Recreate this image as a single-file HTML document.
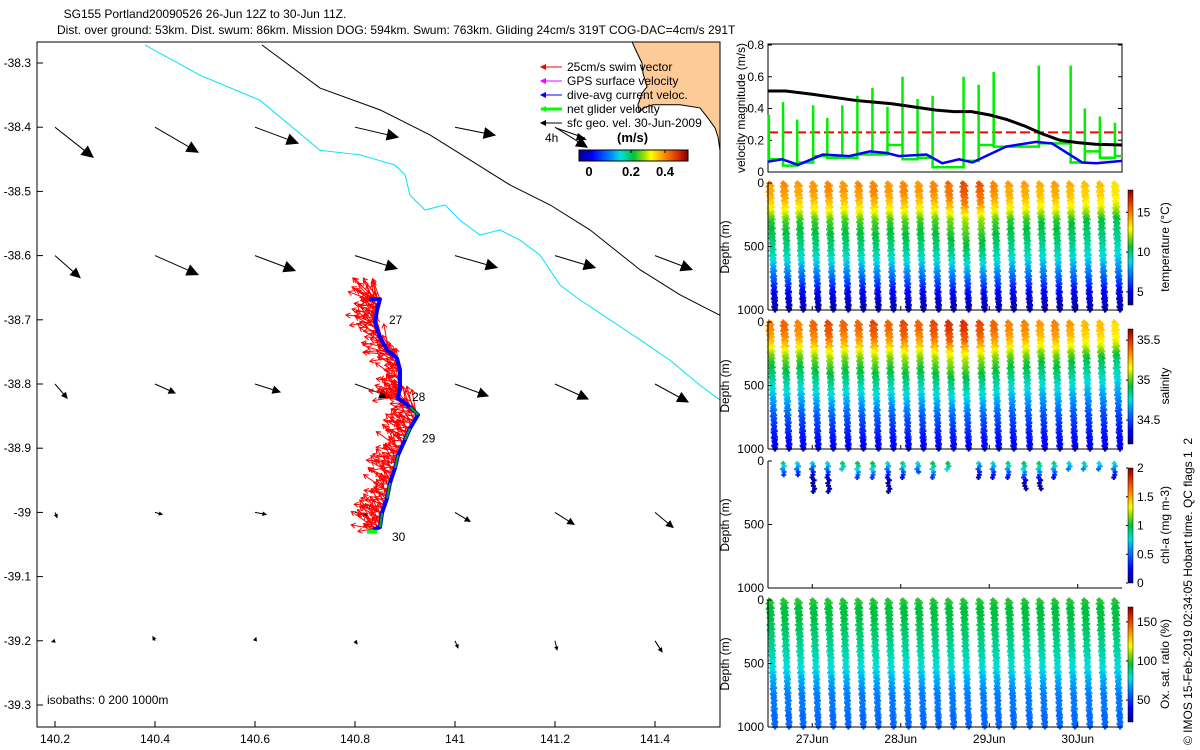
<!DOCTYPE html>
<html><head><meta charset="utf-8"><style>
html,body{margin:0;padding:0;background:#fff}
svg{display:block;font-family:"Liberation Sans",sans-serif}
text{font-size:12px;fill:#000}
</style></head><body>
<svg id="s" width="1200" height="750" viewBox="0 0 1200 750" xmlns="http://www.w3.org/2000/svg">
<defs>
<linearGradient id="jetH" x1="0" x2="1" y1="0" y2="0">
<stop offset="0" stop-color="#00008f"/><stop offset="0.12" stop-color="#0000ff"/><stop offset="0.3" stop-color="#0090ff"/><stop offset="0.38" stop-color="#00e0e0"/><stop offset="0.5" stop-color="#00c040"/><stop offset="0.6" stop-color="#a0e000"/><stop offset="0.66" stop-color="#ffff00"/><stop offset="0.78" stop-color="#ff9000"/><stop offset="0.9" stop-color="#e03000"/><stop offset="1" stop-color="#800000"/></linearGradient>
<linearGradient id="jetV" x1="0" x2="0" y1="1" y2="0">
<stop offset="0" stop-color="#00008f"/><stop offset="0.12" stop-color="#0000ff"/><stop offset="0.3" stop-color="#0090ff"/><stop offset="0.38" stop-color="#00e0e0"/><stop offset="0.5" stop-color="#00c040"/><stop offset="0.6" stop-color="#a0e000"/><stop offset="0.66" stop-color="#ffff00"/><stop offset="0.78" stop-color="#ff9000"/><stop offset="0.9" stop-color="#e03000"/><stop offset="1" stop-color="#800000"/></linearGradient>
<clipPath id="mapClip"><rect x="37" y="42" width="683" height="685"/></clipPath>
</defs>
<text x="205" y="18" text-anchor="middle">SG155 Portland20090526 26-Jun 12Z to 30-Jun 11Z.</text>
<text x="57" y="34">Dist. over ground: 53km. Dist. swum: 86km. Mission DOG: 594km. Swum: 763km. Gliding 24cm/s 319T COG-DAC=4cm/s 291T</text>
<g id="map"></g>
<g id="right"></g>
<text transform="translate(1192,745) rotate(-90)" xml:space="preserve">© IMOS 15-Feb-2019 02:34:05 Hobart time. QC flags 1  2</text>
</svg>
<script>
// ---------- MAP DATA ----------
const lonTicks=[140.2,140.4,140.6,140.8,141,141.2,141.4];
const latTicks=[-38.3,-38.4,-38.5,-38.6,-38.7,-38.8,-38.9,-39,-39.1,-39.2,-39.3];
const trackLon=[140.828,140.85,140.844,140.84,140.85,140.864,140.884,140.89,140.89,140.886,140.91,140.926,140.91,140.9,140.886,140.88,140.87,140.864,140.854,140.85,140.836];
const trackLat=[-38.668,-38.668,-38.685,-38.705,-38.727,-38.747,-38.76,-38.778,-38.805,-38.822,-38.836,-38.848,-38.869,-38.887,-38.911,-38.931,-38.954,-38.978,-39.001,-39.023,-39.027];
const iso200Lon=[140.38,140.49,140.61,140.73,140.81,140.88,140.9,140.91,140.94,140.98,141.01,141.05,141.09,141.13,141.17,141.21,141.25,141.31,141.37,141.43,141.49,141.53];
const iso200Lat=[-38.272,-38.319,-38.358,-38.436,-38.443,-38.459,-38.474,-38.506,-38.529,-38.521,-38.545,-38.568,-38.56,-38.576,-38.599,-38.646,-38.669,-38.7,-38.731,-38.763,-38.802,-38.825];
const iso1000Lon=[140.614,140.73,140.85,140.95,141.03,141.11,141.19,141.27,141.37,141.45,141.53];
const iso1000Lat=[-38.272,-38.339,-38.373,-38.412,-38.451,-38.49,-38.521,-38.56,-38.622,-38.661,-38.693];
const landLon=[141.354,141.364,141.374,141.376,141.384,141.374,141.366,141.368,141.38,141.396,141.424,141.45,141.49,141.506,141.52,141.526,141.53,141.6,141.6];
const landLat=[-38.267,-38.284,-38.3,-38.316,-38.337,-38.347,-38.365,-38.376,-38.369,-38.365,-38.365,-38.365,-38.37,-38.386,-38.401,-38.415,-38.436,-38.436,-38.2];
const gridLats=[-38.4,-38.6,-38.8,-39.0,-39.2];
const gridU=[[0.38,0.43,0.43,0.43,0.40,0.32,null],[0.25,0.43,0.40,0.42,0.42,0.40,0.37],[0.12,0.20,0.25,0.35,0.33,0.33,0.33],[0.02,0.07,0.11,0.12,0.15,0.19,0.18],[-0.03,-0.02,0.01,0.02,0.03,0.02,0.07]];
const gridV=[[-0.30,-0.25,-0.16,-0.10,-0.08,-0.20,null],[-0.22,-0.19,-0.15,-0.13,-0.12,-0.12,-0.14],[-0.14,-0.09,-0.08,-0.13,-0.12,-0.15,-0.18],[-0.05,-0.02,-0.02,-0.03,-0.09,-0.12,-0.15],[-0.01,0.04,0.03,-0.03,-0.07,-0.09,-0.11]];
const swimAngles=[200,215,230,190,245,210,175,225,260,205,235,195,250,185,220,240,170,255];
const swimLens=[22,16,28,12,20,25,14,30,18,24,26,10];
const dayLabels=[{t:27,s:"27"},{t:28,s:"28"},{t:29,s:"29"},{t:30,s:"30"}];
const dayLabelIdx=[2,8,12,19];

// ---------- TIME SERIES DATA ----------
const blackT=[26.5,26.7,27.0,27.5,27.9,28.4,28.6,28.8,29.0,29.2,29.4,29.6,29.8,30.0,30.2,30.5];
const blackV=[0.51,0.51,0.49,0.45,0.43,0.39,0.38,0.38,0.36,0.33,0.29,0.24,0.20,0.185,0.175,0.17];
const blueT=[26.5,26.66,26.84,27.12,27.42,27.65,27.84,27.98,28.29,28.47,28.66,28.81,29.19,29.53,29.71,30.05,30.21,30.5];
const blueV=[0.065,0.08,0.045,0.11,0.10,0.13,0.12,0.10,0.11,0.055,0.08,0.06,0.16,0.19,0.18,0.06,0.055,0.07];
const greenT=[26.51,26.67,26.83,27.01,27.17,27.34,27.51,27.68,27.85,28.02,28.19,28.36,28.71,28.88,29.05,29.56,29.92,30.08,30.25,30.42];
const greenPeak=[0.36,0.44,0.33,0.42,0.34,0.42,0.48,0.53,0.41,0.60,0.46,0.48,0.60,0.55,0.63,0.67,0.67,0.40,0.35,0.31];
const greenBase=[0.08,0.04,0.06,0.10,0.09,0.09,0.11,0.11,0.17,0.08,0.09,0.03,0.07,0.17,0.16,0.18,0.06,0.13,0.09,0.10];
const swimSpeed=0.25;
const diveT=[26.51,26.67,26.83,27.0,27.17,27.34,27.51,27.68,27.85,28.02,28.19,28.36,28.53,28.7,28.88,29.04,29.21,29.39,29.56,29.73,29.9,30.07,30.24,30.41];
const depthGrid=[0,50,100,150,200,250,300,350,400,450,500,550,600,650,700,750,800,850,900,950,1000];
const tempProf=[14.4,14.3,14.1,13.7,13.0,12.1,11.0,10.7,10.4,10.1,9.8,9.4,8.9,8.3,7.6,6.9,6.1,5.3,4.6,4.0,3.7];
const tempOffset=[0,0.3,0,0.2,0.4,0.2,0.3,0.5,0.2,0.5,0.2,0.4,0.9,1.5,1.2,0.4,0,0,-0.3,0,-0.3,-0.6,-0.6,-1];
const salProf=[35.36,35.34,35.31,35.26,35.18,35.06,34.98,34.93,34.88,34.83,34.78,34.73,34.68,34.63,34.57,34.52,34.48,34.44,34.41,34.38,34.35];
const salOffset=[0,0.05,0,0.05,0.1,0.05,0.05,0.1,0.05,0.1,0.05,0.1,0.15,0.15,0.1,0.05,0,0,-0.05,0,-0.05,-0.1,-0.1,-0.15];
const oxyProf=[98,97,96,95,93,91,89,87,85,83,80,77,73,69,66,63,62,61,60,60,60];
const chlMax=[0,120,120,240,240,80,140,130,240,140,100,130,70,0,140,140,140,230,230,140,80,80,80,130];
const chlSurf=[0.8,0.9,0.8,0.7,0.8,0.95,1.0,1.0,0.8,0.9,0.8,1.0,1.0,0.8,0.7,0.8,0.9,1.0,0.95,0.9,0.8,0.85,0.75,0.8];
const velTicks=[0,0.2,0.4,0.6,0.8];
const depthTicks=[0,500,1000];
const dateTicks=[27,28,29,30];
const dateLabels=["27Jun","28Jun","29Jun","30Jun"];

// ---------- helpers ----------
const NS="http://www.w3.org/2000/svg";
function mk(tag,attrs,parent){const e=document.createElementNS(NS,tag);for(const k in attrs)e.setAttribute(k,attrs[k]);parent.appendChild(e);return e;}
function X(lon){return 55+(lon-140.2)*500;}
function Y(lat){return 63+(-38.3-lat)*642;}
const cmapPos=[0,0.12,0.3,0.38,0.5,0.6,0.66,0.78,0.9,1];
const cmapCol=[[0,0,143],[0,0,255],[0,144,255],[0,224,224],[0,192,64],[160,224,0],[255,255,0],[255,144,0],[224,48,0],[128,0,0]];
function jet(v){v=Math.max(0,Math.min(1,v));v=Math.round(v*48)/48;
 for(let i=1;i<cmapPos.length;i++){if(v<=cmapPos[i]){const f=(v-cmapPos[i-1])/(cmapPos[i]-cmapPos[i-1]);const a=cmapCol[i-1],b=cmapCol[i];
  return "rgb("+[0,1,2].map(k=>Math.round(a[k]+f*(b[k]-a[k]))).join(",")+")";}}return "rgb(128,0,0)";}
function interp(xs,ys,x){if(x<=xs[0])return ys[0];for(let i=1;i<xs.length;i++){if(x<=xs[i]){const f=(x-xs[i-1])/(xs[i]-xs[i-1]);return ys[i-1]+f*(ys[i]-ys[i-1]);}}return ys[ys.length-1];}
const map=document.getElementById('map');
const right=document.getElementById('right');

// ---------- MAP ----------
const clipG=mk('g',{'clip-path':'url(#mapClip)'},map);
let d="M"+landLon.map((l,i)=>X(l)+","+Y(landLat[i])).join(" L")+" Z";
const land=mk('path',{d:d,fill:'#fccb98',stroke:'#000','stroke-width':1},clipG);


const iso2=mk('polyline',{points:iso200Lon.map((l,i)=>X(l)+","+Y(iso200Lat[i])).join(" "),fill:'none',stroke:'#00e0ff','stroke-width':1},clipG);


const iso1=mk('polyline',{points:iso1000Lon.map((l,i)=>X(l)+","+Y(iso1000Lat[i])).join(" "),fill:'none',stroke:'#000','stroke-width':1},clipG);


function arrow(g,x1,y1,x2,y2,col,w,hs){
 mk('line',{x1:x1,y1:y1,x2:x2,y2:y2,stroke:col,'stroke-width':w},g);
 const a=Math.atan2(y2-y1,x2-x1);
 const p=[[x2,y2],[x2-hs*Math.cos(a-0.45),y2-hs*Math.sin(a-0.45)],[x2-hs*Math.cos(a+0.45),y2-hs*Math.sin(a+0.45)]];
 mk('polygon',{points:p.map(q=>q.join(",")).join(" "),fill:col,stroke:col,'stroke-width':1},g);}
const gf=mk('g',{},clipG);


gridLats.forEach((lat,r)=>lonTicks.forEach((lon,c)=>{const u=gridU[r][c],v=gridV[r][c];if(u===null)return;
 const x1=X(lon),y1=Y(lat),x2=x1+u*100,y2=y1-v*100;const L=Math.hypot(x2-x1,y2-y1);
 arrow(gf,x1,y1,x2,y2,'#000',1,Math.min(12,Math.max(3,L*0.3)));}));
// swim vectors
const gs=mk('g',{},clipG);


let k=0;let sd="";
for(let i=0;i<trackLon.length-1;i++){for(let j=0;j<12;j++){const f=j/12;const x=X(trackLon[i]+(trackLon[i+1]-trackLon[i])*f),y=Y(trackLat[i]+(trackLat[i+1]-trackLat[i])*f);
 const a=swimAngles[k%swimAngles.length]*Math.PI/180,L=swimLens[k%swimLens.length];k++;
 const x2=x+L*Math.cos(a),y2=y+L*Math.sin(a);
 sd+="M"+x.toFixed(1)+","+y.toFixed(1)+"L"+x2.toFixed(1)+","+y2.toFixed(1);
 sd+="M"+(x2+5*Math.cos(a+2.6)).toFixed(1)+","+(y2+5*Math.sin(a+2.6)).toFixed(1)+"L"+x2.toFixed(1)+","+y2.toFixed(1)+"L"+(x2+5*Math.cos(a-2.6)).toFixed(1)+","+(y2+5*Math.sin(a-2.6)).toFixed(1);}}
mk('path',{d:sd,stroke:'#ff0000','stroke-width':1,fill:'none'},gs);
const tr=mk('polyline',{points:trackLon.map((l,i)=>X(l)+","+Y(trackLat[i])).join(" "),fill:'none',stroke:'#0000ff','stroke-width':4,'stroke-linejoin':'round'},clipG);


for(let i=10;i<trackLon.length-1;i+=2){const s=mk('line',{x1:X(trackLon[i]),y1:Y(trackLat[i]),x2:X(trackLon[i+1]),y2:Y(trackLat[i+1]),stroke:'#00b000','stroke-width':2},clipG);
 
 }
const last=trackLon.length-1;
mk('line',{x1:X(trackLon[last])-6,y1:Y(trackLat[last])+2,x2:X(trackLon[last])+4,y2:Y(trackLat[last])+2,stroke:'#00ff00','stroke-width':4},clipG);
dayLabels.forEach((dl,i)=>{const idx=dayLabelIdx[i];const t=mk('text',{x:X(trackLon[idx])+12,y:Y(trackLat[idx])+14},map);t.textContent=dl.s;
 
 });
// axes
const ax=mk('rect',{x:37,y:42,width:683,height:685,fill:'none',stroke:'#000','stroke-width':1},map);


lonTicks.forEach(l=>{const x=X(l);mk('line',{x1:x,y1:727,x2:x,y2:721,stroke:'#000'},map);
 const t=mk('text',{x:x,y:743,'text-anchor':'middle'},map);t.textContent=String(l);
 
 });
latTicks.forEach(l=>{const y=Y(l);mk('line',{x1:37,y1:y,x2:43,y2:y,stroke:'#000'},map);
 const t=mk('text',{x:31,y:y+4,'text-anchor':'end'},map);t.textContent=String(l);
 
 });
const isoT=mk('text',{x:47,y:704},map);isoT.textContent="isobaths: 0   200   1000m";


isoT.setAttribute('xml:space','preserve');
// legend
const lg=mk('g',{},map);


const legItems=[["25cm/s swim vector","#ff0000",1],["GPS surface velocity","#ff00ff",1],["dive-avg current veloc.","#0000ff",1],["net glider velocity","#00ff00",3],["sfc geo. vel. 30-Jun-2009","#000",1]];
legItems.forEach((it,i)=>{const y=67+i*14;const e=mk('g',{},lg);
 
 
 mk('line',{x1:542,y1:y,x2:562,y2:y,stroke:it[1],'stroke-width':it[2]},e);
 arrow(e,548,y,541,y,it[1],it[2],5);
 const t=mk('text',{x:567,y:y+4},e);t.textContent=it[0];});
const h4=mk('text',{x:545,y:142},lg);h4.textContent="4h";
mk('line',{x1:556,y1:128,x2:585,y2:138,stroke:'#000'},lg);
mk('polygon',{points:"587,140 578,133 576,140",fill:'#000'},lg);
const ms=mk('text',{x:617,y:142,'font-weight':'bold','style':'font-size:13px'},lg);ms.textContent="(m/s)";
const cb=mk('rect',{x:579,y:150,width:109,height:11,fill:'url(#jetH)',stroke:'#000'},lg);


[["0",589],["0.2",631],["0.4",665]].forEach(a=>{const t=mk('text',{x:a[1],y:176,'text-anchor':'middle','font-weight':'bold','style':'font-size:13px'},lg);t.textContent=a[0];
 mk('line',{x1:a[1],y1:150,x2:a[1],y2:153,stroke:'#000'},lg);});

// ---------- RIGHT PANELS ----------
const PX0=768,PX1=1122;
function TX(t){return PX0+(t-26.5)/4*(PX1-PX0);}
const VY=v=>172-v*158.75;
const vp=mk('g',{},right);


mk('rect',{x:PX0,y:44,width:PX1-PX0,height:128,fill:'#fff',stroke:'#000'},vp);
velTicks.forEach(v=>{const y=VY(v);mk('line',{x1:PX0,y1:y,x2:PX0+4,y2:y,stroke:'#000'},vp);mk('line',{x1:PX1,y1:y,x2:PX1-4,y2:y,stroke:'#000'},vp);
 const t=mk('text',{x:764,y:y+4,'text-anchor':'end'},vp);t.textContent=String(v);});
const vl=mk('text',{transform:'translate(745,108) rotate(-90)','text-anchor':'middle'},vp);vl.textContent="velocity magnitude (m/s)";


const rl=mk('line',{x1:PX0,y1:VY(swimSpeed),x2:PX1,y2:VY(swimSpeed),stroke:'#ff0000','stroke-width':2,'stroke-dasharray':'10,4'},vp);


let gd="";let prev=greenBase[0];
greenT.forEach((t,i)=>{const x=TX(t);if(i===0)gd+="M"+x+","+VY(greenPeak[0]);else gd+=" L"+x+","+VY(prev)+" L"+x+","+VY(greenPeak[i]);
 gd+=" L"+x+","+VY(greenBase[i]);prev=greenBase[i];});
gd+=" L"+PX1+","+VY(prev);
const gl=mk('path',{d:gd,fill:'none',stroke:'#00ee00','stroke-width':2.5},vp);


const bl=mk('polyline',{points:blackT.map((t,i)=>TX(t)+","+VY(blackV[i])).join(" "),fill:'none',stroke:'#000','stroke-width':3},vp);


const bu=mk('polyline',{points:blueT.map((t,i)=>TX(t)+","+VY(blueV[i])).join(" "),fill:'none',stroke:'#0000ff','stroke-width':2.5},vp);



const wig=[0,1,-1,0.5,0,-1,1,-0.5,0,1,-0.5,0.5];
function profilePanel(name,top,vmin,vmax,valueAt,cbTicks,title,sparse){
 const g=mk('g',{},right);
 
 
 const DY=dep=>top+dep/1000*127;
 const bins={};
 function add(x,y,v){const c=jet((v-vmin)/(vmax-vmin));(bins[c]=bins[c]||[]).push("M"+(x-2.5).toFixed(1)+","+y.toFixed(1)+"h5M"+x.toFixed(1)+","+(y-2.5).toFixed(1)+"v5");}
 diveT.forEach((t,i)=>{const x0=TX(t);const maxD=sparse?sparse[i]:1000;if(maxD<=0)return;
  const step=sparse?22:14;let n=0;const d0=sparse?20:0;
  for(let dep=d0;dep<=maxD;dep+=step){const f=dep/1000;
   add(x0+f*6+wig[n%wig.length],DY(dep),valueAt(i,dep));
   if(!sparse)add(x0+2+f*4+wig[(n+5)%wig.length],DY(dep+7),valueAt(i,dep+7));n++;}});
 for(const c in bins)mk('path',{d:bins[c].join(""),stroke:c,'stroke-width':2,fill:'none'},g);
 mk('line',{x1:PX0,y1:top,x2:PX0,y2:top+127,stroke:'#000'},g);
 mk('line',{x1:PX0,y1:top+127,x2:PX1,y2:top+127,stroke:'#000'},g);
 depthTicks.forEach(dv=>{const y=DY(dv);mk('line',{x1:PX0,y1:y,x2:PX0+4,y2:y,stroke:'#000'},g);
  const t=mk('text',{x:764,y:y+4,'text-anchor':'end'},g);t.textContent=String(dv);});
 dateTicks.forEach(dt=>{mk('line',{x1:TX(dt),y1:top+127,x2:TX(dt),y2:top+123,stroke:'#000'},g);});
 const dl=mk('text',{transform:'translate(729,'+(top+64)+') rotate(-90)','text-anchor':'middle'},g);dl.textContent="Depth (m)";
 
 
 const cy0=top+7,cy1=top+122;
 const cbar=mk('rect',{x:1128,y:cy0,width:5,height:cy1-cy0,fill:'url(#jetV)',stroke:'#000','stroke-width':0.5},g);
 
 
 cbTicks.forEach(v=>{const y=cy1-(v-vmin)/(vmax-vmin)*(cy1-cy0);mk('line',{x1:1126,y1:y,x2:1128,y2:y,stroke:'#000'},g);
  const t=mk('text',{x:1137,y:y+4},g);t.textContent=String(v);});
 const ct=mk('text',{transform:'translate(1169,'+(top+64)+') rotate(-90)','text-anchor':'middle'},g);ct.textContent=title;
 
 
}
profilePanel('temperature-panel',183,3.35,17.8,(i,d)=>interp(depthGrid,tempProf,d)+tempOffset[i]*(1-d/1000),[5,10,15],'temperature (°C)');
profilePanel('salinity-panel',322,34.2,35.64,(i,d)=>interp(depthGrid,salProf,d)+salOffset[i]*(1-d/1000),[34.5,35,35.5],'salinity');
profilePanel('chlorophyll-panel',461,0,2,(i,d)=>Math.max(0.05,chlSurf[i]-(d-20)/120*0.7),[0,0.5,1,1.5,2],'chl-a (mg m-3)',chlMax);
profilePanel('oxygen-panel',600,22,169,(i,d)=>interp(depthGrid,oxyProf,d),[50,100,150],'Ox. sat. ratio (%)');
dateTicks.forEach((dt,i)=>{const t=mk('text',{x:TX(dt),y:743,'text-anchor':'middle'},right);t.textContent=dateLabels[i];
 
 });
</script>
</body></html>
